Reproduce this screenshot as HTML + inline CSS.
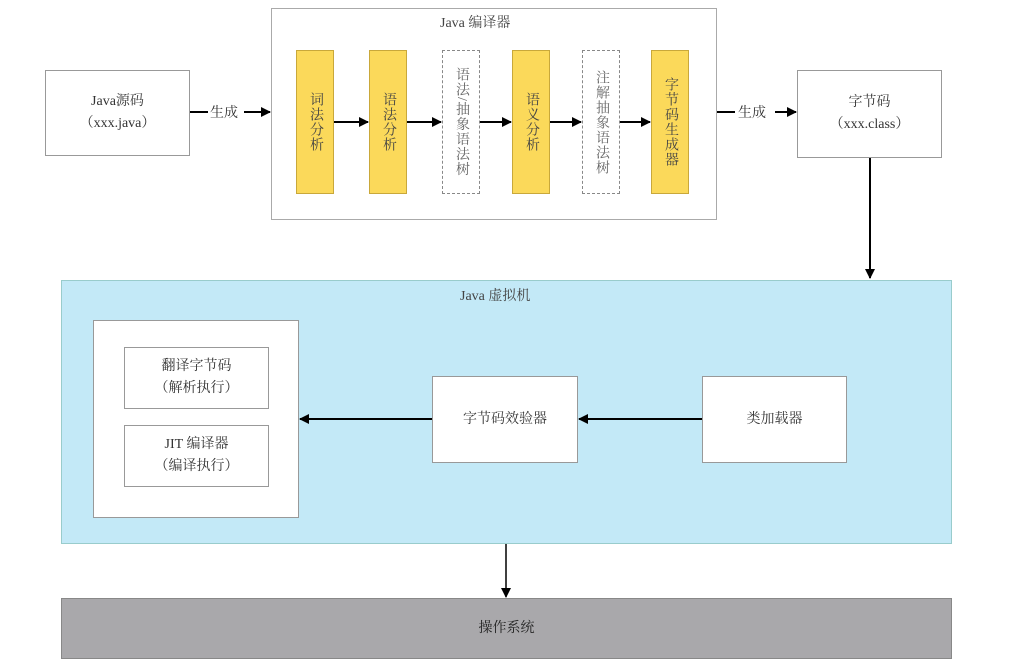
<!DOCTYPE html>
<html><head><meta charset="utf-8"><style>
body{margin:0;width:1014px;height:669px;background:#fff;position:relative;overflow:hidden;font-family:"Liberation Serif","Noto Serif CJK SC",serif;color:#333}
.b{position:absolute;box-sizing:border-box;display:flex;align-items:center;justify-content:center;text-align:center;font-size:14px;line-height:22px}
.y{background:#fbd95a;border:1px solid #c9a83a;writing-mode:vertical-rl;font-size:14px;color:#444;letter-spacing:1px}
.d{background:#fff;border:1px dashed #888;writing-mode:vertical-rl;font-size:14px;color:#666;letter-spacing:1px}
.w{background:#fff;border:1px solid #999}
.t{position:absolute;font-size:14px;color:#444}
</style></head><body>
<div class="b w" style="left:45px;top:70px;width:145px;height:86px">Java源码<br>（xxx.java）</div>
<div class="b w" style="left:271px;top:8px;width:446px;height:212px;border-color:#aaa"></div>
<div class="t" style="left:440px;top:12px">Java 编译器</div>
<div class="b y" style="left:296px;top:50px;width:38px;height:144px">词法分析</div>
<div class="b y" style="left:369px;top:50px;width:38px;height:144px">语法分析</div>
<div class="b d" style="left:442px;top:50px;width:38px;height:144px">语法/抽象语法树</div>
<div class="b y" style="left:512px;top:50px;width:38px;height:144px">语义分析</div>
<div class="b d" style="left:582px;top:50px;width:38px;height:144px">注解抽象语法树</div>
<div class="b y" style="left:651px;top:50px;width:38px;height:144px">字节码生成器</div>
<div class="b w" style="left:797px;top:70px;width:145px;height:88px">字节码<br>（xxx.class）</div>
<div class="b" style="left:61px;top:280px;width:891px;height:264px;background:#c3e9f7;border:1px solid #9cc"></div>
<div class="t" style="left:460px;top:285px">Java 虚拟机</div>
<div class="b w" style="left:93px;top:320px;width:206px;height:198px"></div>
<div class="b w" style="left:124px;top:347px;width:145px;height:62px">翻译字节码<br>（解析执行）</div>
<div class="b w" style="left:124px;top:425px;width:145px;height:62px">JIT 编译器<br>（编译执行）</div>
<div class="b w" style="left:432px;top:376px;width:146px;height:87px">字节码效验器</div>
<div class="b w" style="left:702px;top:376px;width:145px;height:87px">类加载器</div>
<div class="b" style="left:61px;top:598px;width:891px;height:61px;background:#a9a8ab;border:1px solid #888;color:#222">操作系统</div>
<svg width="1014" height="669" style="position:absolute;left:0;top:0">
<defs><marker id="a" markerWidth="10" markerHeight="10" refX="9" refY="5" orient="auto" markerUnits="userSpaceOnUse"><path d="M0,0L10,5L0,10z" fill="#000"/></marker></defs>
<g stroke="#000" stroke-width="2" marker-end="url(#a)">
<line x1="190" y1="112" x2="270" y2="112"/>
<line x1="334" y1="122" x2="368" y2="122"/>
<line x1="407" y1="122" x2="441" y2="122"/>
<line x1="480" y1="122" x2="511" y2="122"/>
<line x1="550" y1="122" x2="581" y2="122"/>
<line x1="620" y1="122" x2="650" y2="122"/>
<line x1="717" y1="112" x2="796" y2="112"/>
<line x1="870" y1="158" x2="870" y2="278"/>
<line x1="702" y1="419" x2="579" y2="419"/>
<line x1="432" y1="419" x2="300" y2="419"/>
<line x1="506" y1="544" x2="506" y2="597" stroke-width="1.5"/>
</g>
<rect x="208" y="103" width="36" height="18" fill="#fff"/>
<rect x="735" y="103" width="40" height="18" fill="#fff"/>
<text x="210" y="117" font-size="14" fill="#333" font-family="Liberation Serif,Noto Serif CJK SC,serif">生成</text>
<text x="738" y="117" font-size="14" fill="#333" font-family="Liberation Serif,Noto Serif CJK SC,serif">生成</text>
</svg>
</body></html>
